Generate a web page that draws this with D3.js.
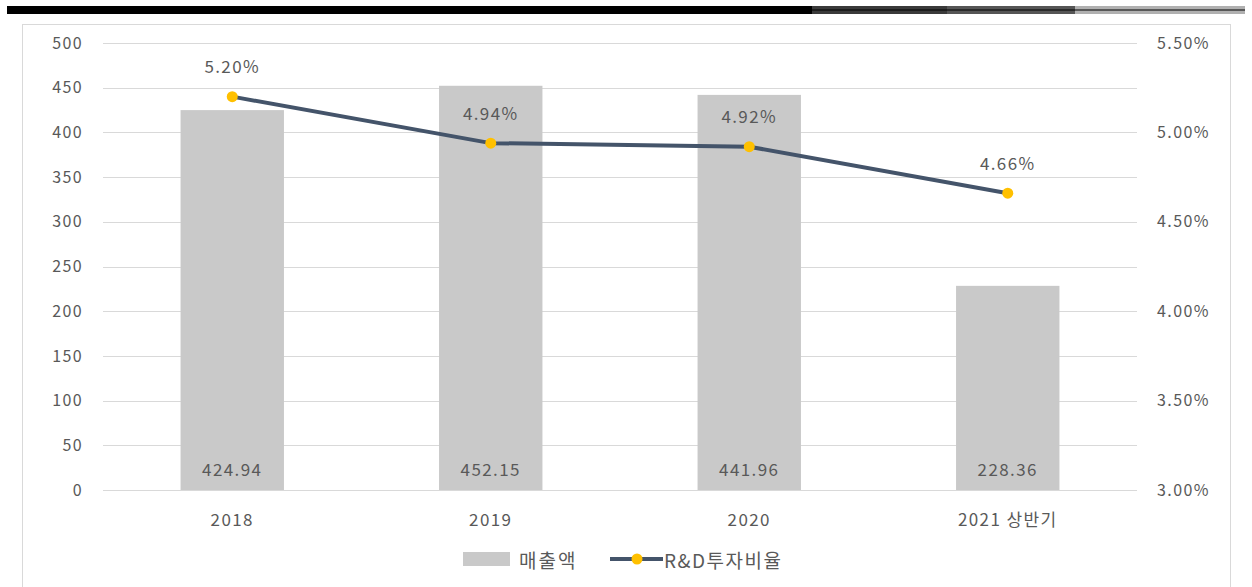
<!DOCTYPE html>
<html>
<head>
<meta charset="utf-8">
<script src="https://cdn.jsdelivr.net/npm/d3@7"></script>
<style>
  body { margin: 0; background: #fff; }
  svg text { font-family: "Noto Sans CJK KR", "Noto Sans", sans-serif; fill: #595959; }
</style>
</head>
<body>
<div class="chart"></div>
<script>
// data
const CATEGORIES = ["2018", "2019", "2020", "2021 상반기"];
const SALES = [424.94, 452.15, 441.96, 228.36];
const RD_RATIO = [5.20, 4.94, 4.92, 4.66];
const LEFT_TICKS = [0, 50, 100, 150, 200, 250, 300, 350, 400, 450, 500];
const RIGHT_TICKS = [3.0, 3.5, 4.0, 4.5, 5.0, 5.5];
const SERIES_NAMES = ["매출액", "R&D투자비율"];

const WIDTH = 1252;
const HEIGHT = 587;
const BAR_COLOR = "#c9c9c9";
const LINE_COLOR = "#44546a";
const MARKER_COLOR = "#ffc000";
const FONT_SIZE = 16;
const SPACING = 1.4;

const svg = d3.select(".chart")
  .append("svg")
  .attr("width", WIDTH)
  .attr("height", HEIGHT);

// header strip at the very top
const header = svg.append("g");
header.append("rect").attr("x", 7).attr("y", 6).attr("width", 806).attr("height", 8).attr("fill", "#000");
header.append("rect").attr("x", 812).attr("y", 6).attr("width", 136).attr("height", 8).attr("fill", "#3a3a3a");
header.append("rect").attr("x", 947).attr("y", 6).attr("width", 129).attr("height", 8).attr("fill", "#555");
header.append("rect").attr("x", 1075).attr("y", 6).attr("width", 170).attr("height", 8).attr("fill", "#b0b0b0");
header.append("line").attr("x1", 812).attr("x2", 1245).attr("y1", 10).attr("y2", 10)
  .attr("stroke", "#000").attr("stroke-width", 1.2);

// chart frame
svg.append("rect")
  .attr("x", 22.5).attr("y", 24.5)
  .attr("width", 1208).attr("height", 570)
  .attr("fill", "none").attr("stroke", "#d9d9d9");

const plot = { left: 103, right: 1137, top: 43, bottom: 490 };

const xScale = d3.scaleBand()
  .domain(CATEGORIES)
  .range([plot.left, plot.right])
  .paddingInner(0.6)
  .paddingOuter(0.3);

const yLeft = d3.scaleLinear().domain([0, 500]).range([plot.bottom, plot.top]);
const yRight = d3.scaleLinear().domain([3.0, 5.5]).range([plot.bottom, plot.top]);

// gridlines
svg.append("g")
  .selectAll("line")
  .data(LEFT_TICKS)
  .join("line")
  .attr("x1", plot.left).attr("x2", plot.right)
  .attr("y1", d => Math.round(yLeft(d)) + 0.5)
  .attr("y2", d => Math.round(yLeft(d)) + 0.5)
  .attr("stroke", "#d9d9d9");

function styleAxisText(g, size) {
  g.select(".domain").remove();
  g.selectAll("text")
    .attr("font-size", size)
    .attr("letter-spacing", SPACING)
    .attr("fill", "#595959")
    .attr("font-family", "Noto Sans CJK KR");
}

// left axis
svg.append("g")
  .attr("transform", `translate(${plot.left - 20}, 0)`)
  .call(d3.axisLeft(yLeft).tickValues(LEFT_TICKS).tickSize(0).tickPadding(0))
  .call(g => styleAxisText(g, FONT_SIZE));

// right axis
svg.append("g")
  .attr("transform", `translate(${plot.right + 20}, 0)`)
  .call(d3.axisRight(yRight).tickValues(RIGHT_TICKS).tickSize(0).tickPadding(0)
    .tickFormat(d => d.toFixed(2) + "%"))
  .call(g => styleAxisText(g, FONT_SIZE));

// x axis labels
svg.append("g")
  .attr("transform", `translate(0, ${plot.bottom + 24})`)
  .call(d3.axisBottom(xScale).tickSize(0).tickPadding(0))
  .call(g => styleAxisText(g, FONT_SIZE + 1));

// bars
const barData = CATEGORIES.map((c, i) => ({ cat: c, value: SALES[i] }));
svg.append("g")
  .selectAll("rect")
  .data(barData)
  .join("rect")
  .attr("x", d => xScale(d.cat))
  .attr("width", xScale.bandwidth())
  .attr("y", d => yLeft(d.value))
  .attr("height", d => plot.bottom - yLeft(d.value))
  .attr("fill", BAR_COLOR);

svg.append("g")
  .selectAll("text")
  .data(barData)
  .join("text")
  .attr("x", d => xScale(d.cat) + xScale.bandwidth() / 2)
  .attr("y", plot.bottom - 22)
  .attr("text-anchor", "middle")
  .attr("dominant-baseline", "central")
  .attr("font-size", FONT_SIZE + 1)
  .attr("letter-spacing", SPACING)
  .attr("fill", "#404040")
  .text(d => d.value.toFixed(2));

// line series
const lineData = CATEGORIES.map((c, i) => ({ cat: c, value: RD_RATIO[i] }));
const cx = d => xScale(d.cat) + xScale.bandwidth() / 2;

svg.append("path")
  .datum(lineData)
  .attr("fill", "none")
  .attr("stroke", LINE_COLOR)
  .attr("stroke-width", 4)
  .attr("stroke-linejoin", "round")
  .attr("d", d3.line().x(cx).y(d => yRight(d.value)));

svg.append("g")
  .selectAll("circle")
  .data(lineData)
  .join("circle")
  .attr("cx", cx)
  .attr("cy", d => yRight(d.value))
  .attr("r", 5.5)
  .attr("fill", MARKER_COLOR);

svg.append("g")
  .selectAll("text")
  .data(lineData)
  .join("text")
  .attr("x", cx)
  .attr("y", d => yRight(d.value) - 31)
  .attr("text-anchor", "middle")
  .attr("dominant-baseline", "central")
  .attr("font-size", FONT_SIZE + 1)
  .attr("letter-spacing", SPACING)
  .attr("fill", "#404040")
  .text(d => d.value.toFixed(2) + "%");

// legend
const legend = svg.append("g").attr("transform", "translate(0, 559)");
legend.append("rect")
  .attr("x", 463).attr("y", -7).attr("width", 47).attr("height", 14)
  .attr("fill", BAR_COLOR);
legend.append("text")
  .attr("x", 519).attr("y", 0)
  .attr("dominant-baseline", "central")
  .attr("font-size", 19)
  .attr("letter-spacing", 2)
  .text(SERIES_NAMES[0]);
legend.append("line")
  .attr("x1", 610).attr("x2", 663).attr("y1", 0).attr("y2", 0)
  .attr("stroke", LINE_COLOR).attr("stroke-width", 4);
legend.append("circle")
  .attr("cx", 637).attr("cy", 0).attr("r", 5.5)
  .attr("fill", MARKER_COLOR);
legend.append("text")
  .attr("x", 664).attr("y", 0)
  .attr("dominant-baseline", "central")
  .attr("font-size", 19)
  .attr("letter-spacing", 1.5)
  .text(SERIES_NAMES[1]);
</script>
</body>
</html>
